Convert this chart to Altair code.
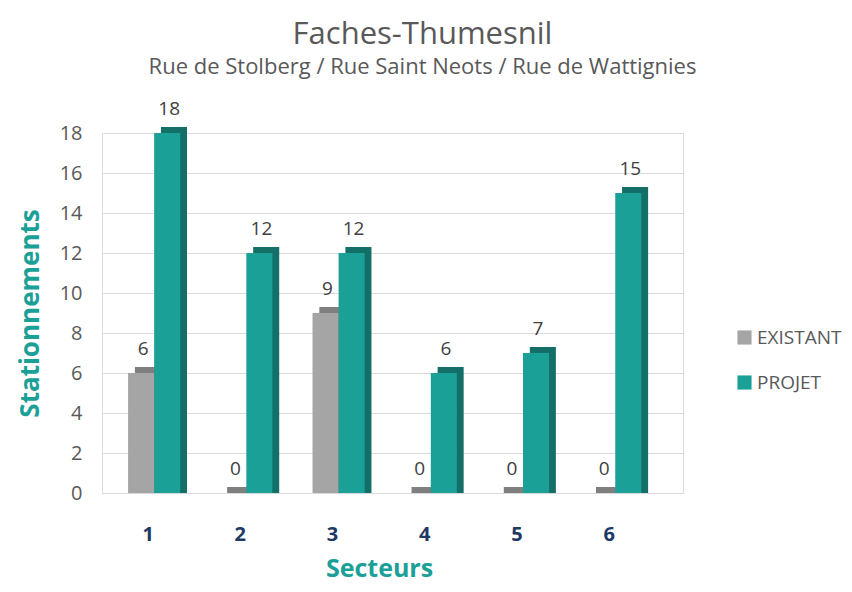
import altair as alt
import pandas as pd

secteurs = ["1", "2", "3", "4", "5", "6"]
series = ["EXISTANT", "PROJET"]
existant = [6, 0, 9, 0, 0, 0]
projet = [18, 12, 12, 6, 7, 15]

rows = []
for i, s in enumerate(secteurs):
    rows.append({"secteur": s, "serie": "EXISTANT", "valeur": existant[i]})
    rows.append({"secteur": s, "serie": "PROJET", "valeur": projet[i]})
df = pd.DataFrame(rows)

FONT = "Open Sans"
front_colors = ["#A5A5A5", "#1BA098"]
dark_colors = ["#7F7F7F", "#146F69"]

x_enc = alt.X("secteur:N", sort=secteurs,
              scale=alt.Scale(paddingInner=0, paddingOuter=0.15, align=0),
              axis=alt.Axis(title="Secteurs", labelAngle=0, labelFont=FONT,
                            labelFontSize=20, labelFontWeight="bold",
                            labelColor="#203864", labelPadding=31,
                            titleFont=FONT, titleFontSize=25, titleFontWeight="bold",
                            titleColor="#1BA098", titlePadding=12, titleX=277,
                            domain=False, ticks=False, grid=False))
y_scale = alt.Scale(domain=[0, 18], nice=False)
y_enc = alt.Y("valeur:Q", scale=y_scale,
              axis=alt.Axis(title="Stationnements", values=list(range(0, 19, 2)),
                            tickCount=10, labelOverlap=False,
                            labelFont=FONT, labelFontSize=20, labelColor="#595959",
                            labelPadding=20, titleFont=FONT, titleFontSize=26,
                            titleFontWeight="bold", titleColor="#1BA098",
                            titlePadding=16, domain=False, ticks=False,
                            gridColor="#D9D9D9", gridWidth=1))


def xo(align):
    return alt.XOffset("serie:N", sort=series,
                       scale=alt.Scale(type="band", paddingInner=0, paddingOuter=0.77,
                                       align=align))


base = alt.Chart(df)

back = base.mark_bar(yOffset=-6, y2Offset=0).encode(
    x=x_enc,
    xOffset=xo(0.82),
    y=y_enc,
    y2=alt.datum(0),
    color=alt.Color("serie:N", scale=alt.Scale(domain=series, range=dark_colors), legend=None),
)

front = base.mark_bar().encode(
    x=x_enc,
    xOffset=xo(0.65),
    y=y_enc,
    color=alt.Color("serie:N", scale=alt.Scale(domain=series, range=front_colors),
                    legend=alt.Legend(title=None, orient="none", legendX=633, legendY=195,
                                      symbolType="square", symbolSize=200,
                                      symbolStrokeWidth=0, labelFont=FONT,
                                      labelFontSize=19, labelColor="#595959",
                                      rowPadding=25, labelOffset=3)),
)

labels = base.mark_text(baseline="bottom", dy=-14, dx=2, font=FONT, fontSize=19,
                        color="#404040").encode(
    x=x_enc,
    xOffset=xo(0.65),
    y=y_enc,
    text=alt.Text("valeur:Q"),
)

chart = alt.layer(back, front, labels).resolve_scale(
    color="independent", xOffset="independent"
).properties(
    width=581,
    height=360,
    autosize=alt.AutoSizeParams(type="none"),
    padding={"left": 94, "top": 125, "right": 161, "bottom": 91},
    title=alt.Title("Faches-Thumesnil",
                    subtitle="Rue de Stolberg / Rue Saint Neots / Rue de Wattignies",
                    font=FONT, fontSize=31, fontWeight="normal", color="#595959",
                    subtitleFont=FONT, subtitleFontSize=22, subtitleColor="#595959",
                    subtitlePadding=6, anchor="middle", dx=30, offset=21),
).configure_view(stroke=None).configure(background="white")

chart.save("out.html", embed_options={"renderer": "svg", "actions": False})
